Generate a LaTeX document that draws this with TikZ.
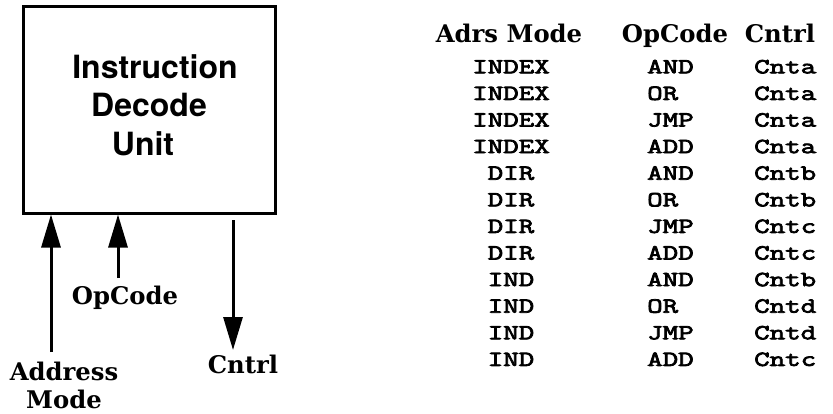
\documentclass[tikz,border=0pt]{standalone}
\usepackage{fontspec}
\usetikzlibrary{arrows.meta}
\setsansfont{TeX Gyre Heros}
\newfontfamily\lblfont{DejaVu Serif}
\newfontfamily\codefont[FakeStretch=1.4,FakeBold=3.6]{Latin Modern Mono}

\begin{document}
\begin{tikzpicture}[x=1pt,y=-1pt,
  lbl/.style={font=\fontsize{24.3}{28}\lblfont\bfseries,inner sep=0pt,align=center},
  cell/.style={font=\fontsize{21.5}{24}\codefont,inner sep=0pt},
  sig/.style={line width=3pt,-{Triangle[length=33pt,width=19pt]}}]
\useasboundingbox (0,0) rectangle (833,413);
\node[draw,line width=3pt,minimum width=252pt,minimum height=207pt] (idu) at (149,109.5) {};
\node[align=center,inner sep=0pt,font=\fontsize{32}{38.5}\selectfont\sffamily\bfseries] (idutxt) at ([yshift=4.5pt]idu.center) {\hspace*{12pt}Instruction\\Decode\\Unit\hspace*{12pt}};
\node[lbl] (amlbl) at (64,385) {Address\\Mode};
\node[lbl] (oplbl) at (125,298) {OpCode};
\node[lbl] (ctlbl) at (243,364) {Cntrl};
\coordinate (amtail) at (51,352);
\coordinate (optail) at (118,278);
\coordinate (cttail) at (233,220);
\coordinate (cthead) at (233,350);
\draw[sig] (amtail) -- (amtail |- idu.south); \draw[sig] (optail) -- (optail |- idu.south); \draw[sig] (cttail) -- (cthead);

\node[lbl,anchor=base] (hdram) at (509,42) {Adrs Mode};
\node[lbl,anchor=base] (hdrop) at (675,42) {OpCode};
\node[lbl,anchor=base] (hdrct) at (780,42) {Cntrl};
\foreach \am/\op/\ct [count=\i] in {INDEX/AND/Cnta,INDEX/OR/Cnta,INDEX/JMP/Cnta,INDEX/ADD/Cnta,DIR/AND/Cntb,DIR/OR/Cntb,DIR/JMP/Cntc,DIR/ADD/Cntc,IND/AND/Cntb,IND/OR/Cntd,IND/JMP/Cntd,IND/ADD/Cntc}{
\node[cell,anchor=base] (am\i) at (511,46.7+26.6*\i) {\am};
\node[cell,anchor=base west] (op\i) at (647,46.7+26.6*\i) {\op};
\node[cell,anchor=base west] (ct\i) at (754,46.7+26.6*\i) {\ct};
}
\end{tikzpicture}
\end{document}
